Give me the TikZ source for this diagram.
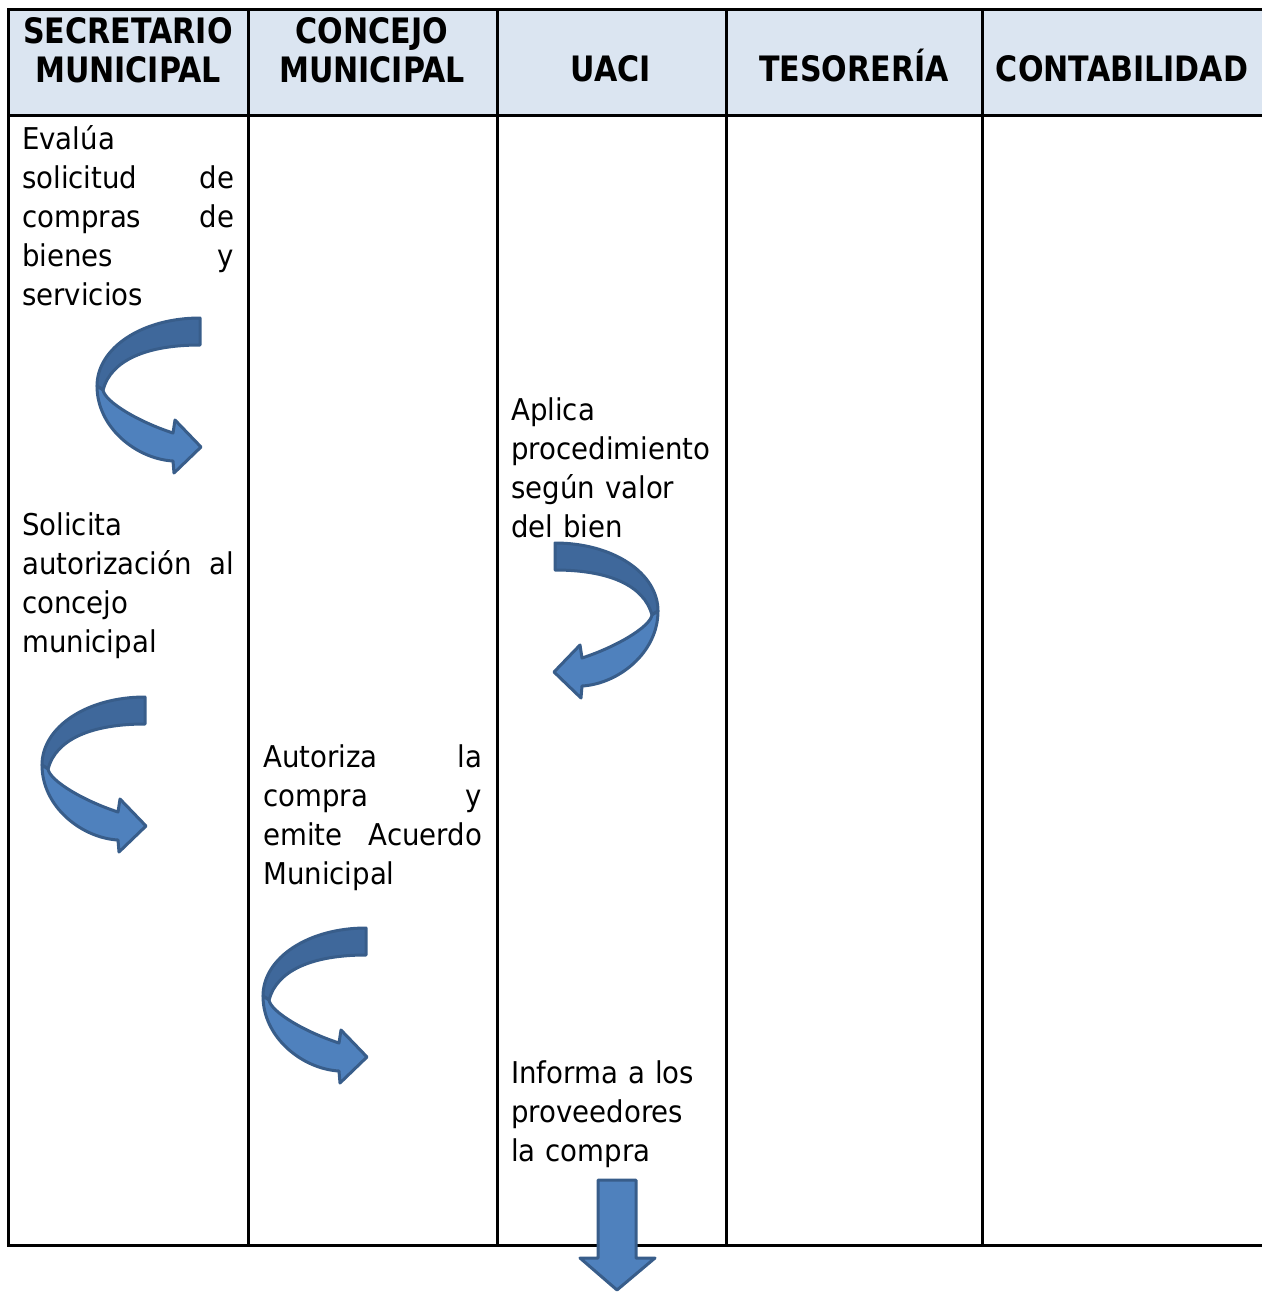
\documentclass[tikz,border=0pt]{standalone}
\usepackage{fontspec}
\setmainfont{DejaVu Sans}[FakeStretch=0.92]
\newfontfamily\hdrfont{DejaVu Sans}[FakeStretch=0.86]
\definecolor{hdrfill}{HTML}{DBE5F1}
\definecolor{arrdark}{HTML}{3F689B}
\definecolor{arrlight}{HTML}{4F81BD}
\definecolor{arrline}{HTML}{385D8A}
\tikzset{
  x=1pt, y=-1pt,
  grid/.style={line width=3pt, black},
  hdr/.style={inner sep=0pt, align=center, font=\hdrfont\bfseries\fontsize{35}{39}\selectfont},
  body/.style={inner sep=0pt, anchor=north west, align=left, font=\fontsize{30}{39}\selectfont},
  arrpart/.style={draw=arrline, line width=3pt, line join=round},
  curvarrow/.pic={
    \path[arrpart, fill=arrdark]
      (103,0) .. controls (45,0) and (0,30) .. (0,68)
      -- (6,72) .. controls (14,42) and (50,27) .. (103,27) -- cycle;
    \path[arrpart, fill=arrlight]
      (0,68) .. controls (0,110) and (40,141) .. (76,143)
      -- (77,155) -- (104,129) -- (78,102) -- (76,115)
      .. controls (42,104) and (8,84) .. (6,72) -- cycle;
  }
}
\newcommand{\fl}{\rule{0pt}{30pt}}
\begin{document}
\begin{tikzpicture}
\useasboundingbox (0,0) rectangle (1262,1292);
% header background
\fill[hdrfill] (8,10) rectangle (1262,116);
% grid
\draw[grid] (1262,10) -- (8,10) -- (8,1245) -- (1262,1245);
\draw[grid] (8,116) -- (1262,116);
\foreach \xx in {248,497,726,982}{\draw[grid] (\xx,10) -- (\xx,1245);}
% headers
\node[hdr, anchor=north] (h1) at (128,13) {\fl SECRETARIO\\MUNICIPAL};
\node[hdr, anchor=north] (h2) at (372,13) {\fl CONCEJO\\MUNICIPAL};
\node[hdr, anchor=base] (h3) at (611,82) {UACI};
\node[hdr, anchor=base] (h4) at (854,82) {TESORERÍA};
\node[hdr, anchor=base] (h5) at (1122,82) {CONTABILIDAD};
% body texts
\node[body, text width=212pt] (t1) at (22,119) {\fl Evalúa\\solicitud\hfill de\\compras\hfill de\\bienes\hfill y\\servicios};
\node[body, text width=212pt] (t2) at (22,505) {\fl Solicita\\autorización\hfill al\\concejo\\municipal};
\node[body, text width=219pt] (t3) at (263,737) {\fl Autoriza\hfill la\\compra\hfill y\\emite\hfill Acuerdo\\Municipal};
\node[body, text width=210pt] (t4) at (511,390) {\fl Aplica\\procedimiento\\según valor\\del bien};
\node[body, text width=210pt] (t5) at (511,1053) {\fl Informa a los\\proveedores\\la compra};
% curved arrows
\pic at (97,318) {curvarrow};
\pic at (42,697) {curvarrow};
\pic at (263,928) {curvarrow};
\pic[xscale=-1] at (658,543) {curvarrow};
% down arrow
\coordinate (dn) at (617,1180);
\path[arrpart, fill=arrlight] ([xshift=-19pt]dn) -- ([xshift=19pt]dn) -- ++(0,78) -- ++(19,0)
  -- (617,1290) -- (580,1258) -- (598,1258) -- cycle;
\end{tikzpicture}
\end{document}
